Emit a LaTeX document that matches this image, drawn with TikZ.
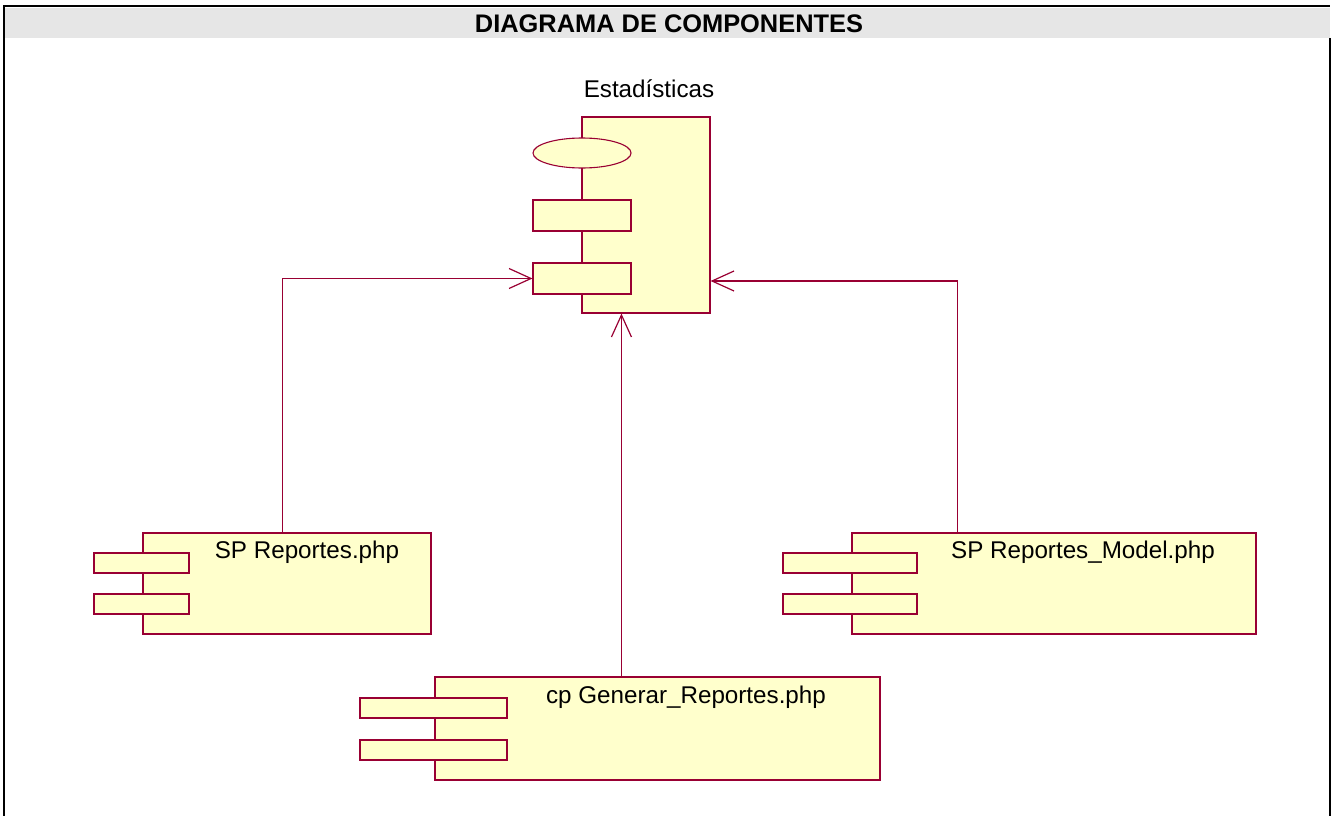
\documentclass[tikz,border=0pt]{standalone}
\usepackage{fontspec}
\setmainfont{Liberation Sans}
\usetikzlibrary{arrows.meta,shapes.geometric}
\definecolor{umlline}{RGB}{153,0,51}
\definecolor{umlfill}{RGB}{255,255,204}
\definecolor{headgray}{RGB}{230,230,230}

\begin{document}
\begin{tikzpicture}[x=1pt,y=-1pt,
  compbox/.style={rectangle, draw=umlline, fill=umlfill, line width=1.1pt, inner sep=0pt},
  portbox/.style={compbox, minimum height=20pt},
  iface/.style={ellipse, draw=umlline, fill=umlfill, line width=1.1pt, inner sep=0pt},
  complabel/.style={inner sep=0pt, font=\fontsize{24.2}{24}\selectfont},
  dep/.style={draw=umlline, line width=1.2pt, -{Straight Barb[length=22pt,width=20pt]}},
  frameline/.style={draw=black, line width=2.2pt}]

\useasboundingbox (0,0) rectangle (1336,816);

% header band and frame
\fill[headgray] (4,8) rectangle (1330,38);
\draw[frameline] (3,6) -- (1330,6);
\draw[frameline] (4,6) -- (4,816);
\draw[frameline] (1330,38) -- (1330,816);
\node[inner sep=0pt, font=\fontsize{25.4}{25}\selectfont\bfseries] (title) at (669,24) {DIAGRAMA DE COMPONENTES};

% Estadisticas component
\node[compbox, minimum width=128pt, minimum height=196pt] (est) at (646,215) {};
\node[iface, minimum width=98pt, minimum height=30pt] (estif) at (582,153) {};
\node[compbox, minimum width=98pt, minimum height=31pt] (estp1) at (582,215.5) {};
\node[compbox, minimum width=98pt, minimum height=31pt] (estp2) at (582,278.5) {};
\node[complabel] (estlbl) at (649,89) {Estadísticas};

% SP Reportes.php
\node[compbox, minimum width=288pt, minimum height=101pt] (sp) at (287,583.5) {};
\node[portbox, minimum width=95pt] (spp1) at (141.5,563) {};
\node[portbox, minimum width=95pt] (spp2) at (141.5,604) {};
\node[complabel] (splbl) at (307,552) {SP Reportes.php};

% cp Generar_Reportes.php
\node[compbox, minimum width=445pt, minimum height=103pt] (gen) at (657.5,728.5) {};
\node[portbox, minimum width=147pt] (genp1) at (433.5,708) {};
\node[portbox, minimum width=147pt] (genp2) at (433.5,750) {};
\node[complabel] (genlbl) at (686,697) {cp Generar\_Reportes.php};

% SP Reportes_Model.php
\node[compbox, minimum width=404pt, minimum height=101pt] (rm) at (1054,583.5) {};
\node[portbox, minimum width=134pt] (rmp1) at (850,563) {};
\node[portbox, minimum width=134pt] (rmp2) at (850,604) {};
\node[complabel] (rmlbl) at (1083,552) {SP Reportes\_Model.php};

% dependencies
\draw[dep] ([xshift=140pt]sp.north west) |- (estp2.west);
\draw[dep] ([xshift=187pt]gen.north west) -- ([xshift=40pt]est.south west);
\draw[dep] ([xshift=106pt]rm.north west) |- ([yshift=-2.5pt]estp2.east -| est.east);
\end{tikzpicture}
\end{document}
